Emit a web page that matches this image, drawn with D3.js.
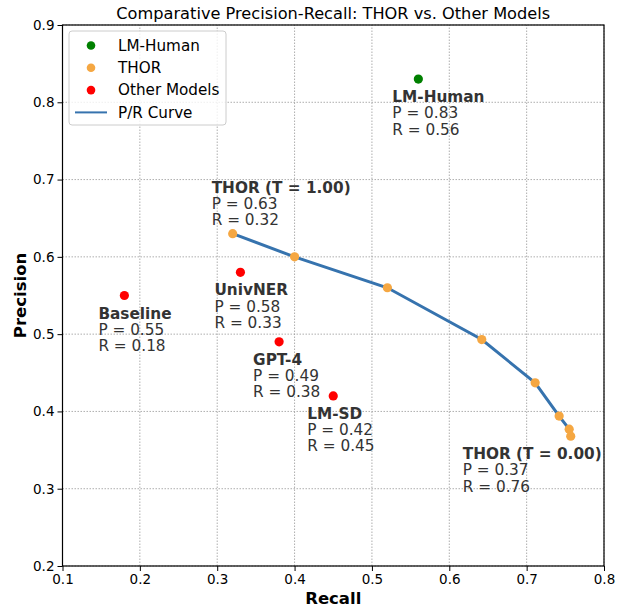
<!DOCTYPE html>
<html>
<head>
<meta charset="utf-8">
<script src="https://cdn.jsdelivr.net/npm/d3@7"></script>
<style>
  body { margin: 0; background: #fff; }
  text { font-family: "DejaVu Sans", sans-serif; }
</style>
</head>
<body>
<div id="chart"></div>
<script>
// Data
const thorRecall = [0.32, 0.40, 0.52, 0.642, 0.711, 0.742, 0.755, 0.757];
const thorPrecision = [0.63, 0.60, 0.56, 0.493, 0.437, 0.394, 0.377, 0.368];

const otherNames = ["Baseline", "UnivNER", "GPT-4", "LM-SD"];
const otherRecall = [0.18, 0.33, 0.38, 0.45];
const otherPrecision = [0.55, 0.58, 0.49, 0.42];

const humanRecall = [0.56];
const humanPrecision = [0.83];

const xTicks = [0.1, 0.2, 0.3, 0.4, 0.5, 0.6, 0.7, 0.8];
const yTicks = [0.2, 0.3, 0.4, 0.5, 0.6, 0.7, 0.8, 0.9];

const legendLabels = ["LM-Human", "THOR", "Other Models", "P/R Curve"];

// Plot constants
const W = 627, H = 607;
const MARGIN = {LEFT: 62.5, RIGHT: 23, TOP: 25, BOTTOM: 41};
const COLORS = {human: "#008000", thor: "#f5a742", other: "#ff0000", line: "#3673ae", text: "#333333"};

const svg = d3.select("#chart").append("svg")
  .attr("width", W).attr("height", H);

const x = d3.scaleLinear().domain([0.1, 0.8]).range([MARGIN.LEFT, W - MARGIN.RIGHT]);
const y = d3.scaleLinear().domain([0.2, 0.9]).range([H - MARGIN.BOTTOM, MARGIN.TOP]);

// grid
const grid = svg.append("g");
grid.selectAll(".gx").data(xTicks).enter().append("line")
  .attr("x1", d => x(d)).attr("x2", d => x(d))
  .attr("y1", y(0.2)).attr("y2", y(0.9))
  .attr("stroke", "#999").attr("stroke-width", 0.8).attr("stroke-dasharray", "1.5,1.5");
grid.selectAll(".gy").data(yTicks).enter().append("line")
  .attr("y1", d => y(d)).attr("y2", d => y(d))
  .attr("x1", x(0.1)).attr("x2", x(0.8))
  .attr("stroke", "#999").attr("stroke-width", 0.8).attr("stroke-dasharray", "1.5,1.5");

// axes
const xAxis = svg.append("g")
  .attr("transform", "translate(0," + y(0.2) + ")")
  .call(d3.axisBottom(x).tickValues(xTicks).tickFormat(d3.format(".1f")).tickSizeOuter(0).tickSize(5).tickPadding(3));
const yAxis = svg.append("g")
  .attr("transform", "translate(" + x(0.1) + ",0)")
  .call(d3.axisLeft(y).tickValues(yTicks).tickFormat(d3.format(".1f")).tickSizeOuter(0).tickSize(5).tickPadding(3));
[xAxis, yAxis].forEach(a => {
  a.selectAll("text").style("font-size", "13.5px").attr("fill", "#000").style("font-family", "DejaVu Sans");
  a.selectAll("line").attr("stroke", "#000");
  a.select(".domain").remove();
});

// frame
svg.append("rect")
  .attr("x", x(0.1)).attr("y", y(0.9))
  .attr("width", x(0.8) - x(0.1)).attr("height", y(0.2) - y(0.9))
  .attr("fill", "none").attr("stroke", "#000").attr("stroke-width", 1.2);

// title and axis labels
svg.append("text").attr("x", (x(0.1) + x(0.8)) / 2).attr("y", 19)
  .attr("text-anchor", "middle").style("font-size", "16.2px")
  .text("Comparative Precision-Recall: THOR vs. Other Models");
svg.append("text").attr("x", (x(0.1) + x(0.8)) / 2).attr("y", 604)
  .attr("text-anchor", "middle").style("font-size", "16.5px").style("font-weight", "bold")
  .text("Recall");
svg.append("text").attr("transform", "translate(26," + (y(0.2) + y(0.9)) / 2 + ") rotate(-90)")
  .attr("text-anchor", "middle").style("font-size", "16.5px").style("font-weight", "bold")
  .text("Precision");

// P/R curve
const thorData = thorRecall.map((r, i) => ({r: r, p: thorPrecision[i]}));
const line = d3.line().x(d => x(d.r)).y(d => y(d.p));
svg.append("path").datum(thorData)
  .attr("d", line).attr("fill", "none")
  .attr("stroke", COLORS.line).attr("stroke-width", 3);

// points
svg.selectAll(".thor").data(thorData).enter().append("circle")
  .attr("cx", d => x(d.r)).attr("cy", d => y(d.p)).attr("r", 4.6)
  .attr("fill", COLORS.thor);

const otherData = otherNames.map((n, i) => ({name: n, r: otherRecall[i], p: otherPrecision[i]}));
svg.selectAll(".other").data(otherData).enter().append("circle")
  .attr("cx", d => x(d.r)).attr("cy", d => y(d.p)).attr("r", 4.6)
  .attr("fill", COLORS.other);

const humanData = humanRecall.map((r, i) => ({name: "LM-Human", r: r, p: humanPrecision[i]}));
svg.selectAll(".human").data(humanData).enter().append("circle")
  .attr("cx", d => x(d.r)).attr("cy", d => y(d.p)).attr("r", 4.6)
  .attr("fill", COLORS.human);

// annotations
function annotate(name, r, p, dx, dy) {
  const t = svg.append("text")
    .attr("x", x(r) + dx).attr("y", y(p) + dy)
    .attr("fill", COLORS.text).style("font-size", "15.3px");
  t.append("tspan").attr("x", x(r) + dx).style("font-weight", "bold").text(name);
  t.append("tspan").attr("x", x(r) + dx).attr("dy", 16.2).text("P = " + p.toFixed(2));
  t.append("tspan").attr("x", x(r) + dx).attr("dy", 16.2).text("R = " + r.toFixed(2));
}
humanData.forEach(d => annotate(d.name, d.r, d.p, -26, 23));
otherData.forEach(d => annotate(d.name, d.r, d.p, -26, 23));
annotate("THOR (T = 1.00)", thorRecall[0], thorPrecision[0], -21, -41);
const last = thorData.length - 1;
annotate("THOR (T = 0.00)", thorRecall[last], thorPrecision[last], -108, 23);

// legend
const lg = svg.append("g").attr("transform", "translate(69,31)");
lg.append("rect").attr("width", 157).attr("height", 94).attr("rx", 3)
  .attr("fill", "#fff").attr("fill-opacity", 0.8).attr("stroke", "#ccc");
const legendColors = [COLORS.human, COLORS.thor, COLORS.other, COLORS.line];
legendLabels.forEach((lab, i) => {
  const cy = 14.5 + i * 22.3;
  if (i < 3) {
    lg.append("circle").attr("cx", 22).attr("cy", cy).attr("r", 4.3).attr("fill", legendColors[i]);
  } else {
    lg.append("line").attr("x1", 6).attr("x2", 38).attr("y1", cy).attr("y2", cy)
      .attr("stroke", legendColors[i]).attr("stroke-width", 2);
  }
  lg.append("text").attr("x", 49).attr("y", cy + 5.3).style("font-size", "15.2px").text(lab);
});
</script>
</body>
</html>
